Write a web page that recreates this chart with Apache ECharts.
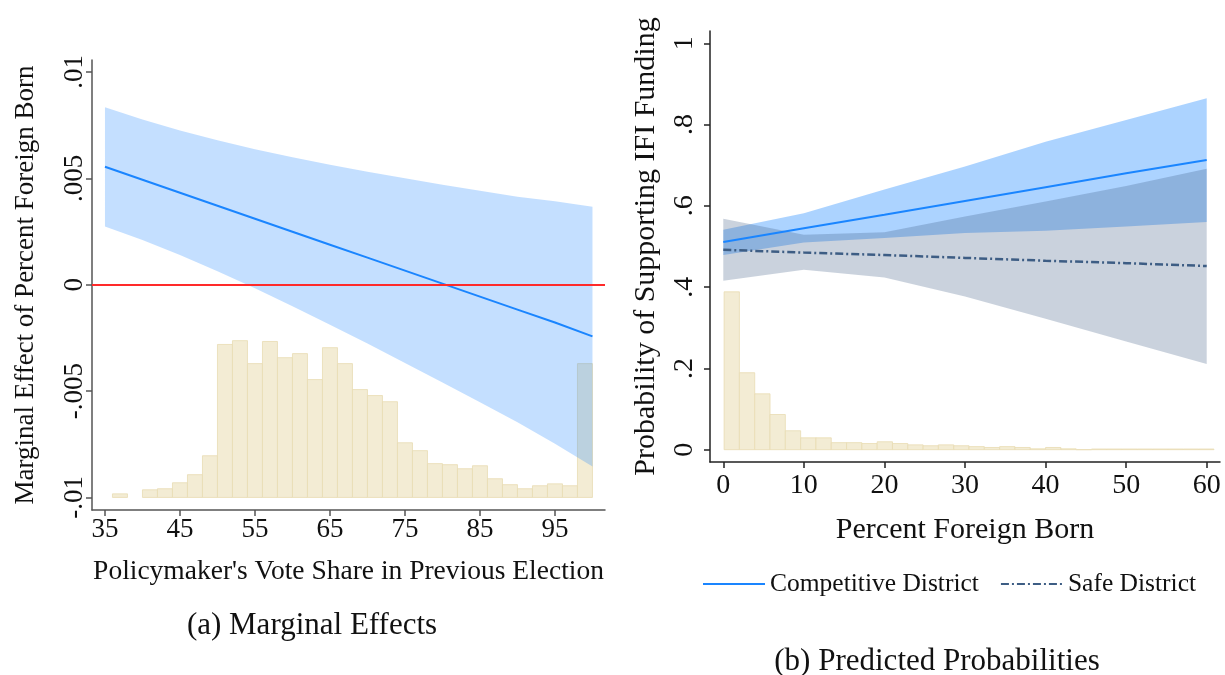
<!DOCTYPE html>
<html>
<head>
<meta charset="utf-8">
<title>Marginal effects and predicted probabilities</title>
<script src="https://cdn.jsdelivr.net/npm/echarts@6/dist/echarts.min.js"></script>
<style>
  html, body { margin: 0; padding: 0; background: #fff; }
  #chart { width: 1225px; height: 675px; }
</style>
</head>
<body>
<div id="chart"></div>
<script>
// (a) marginal effect of percent foreign born, by vote share
var voteShare   = [35, 40, 45, 50, 55, 60, 65, 70, 75, 80, 85, 90, 95, 100];
var effect      = [0.00554, 0.00493, 0.00432, 0.00371, 0.00310, 0.00249, 0.00188, 0.00127, 0.00066, 0.00005, -0.00056, -0.00117, -0.00178, -0.00243];
var effectUpper = [0.00834, 0.00776, 0.00725, 0.00679, 0.00637, 0.00599, 0.00564, 0.00531, 0.00500, 0.00470, 0.00441, 0.00413, 0.00392, 0.00366];
var effectLower = [0.00274, 0.00210, 0.00139, 0.00063, -0.00017, -0.00101, -0.00188, -0.00277, -0.00368, -0.00460, -0.00553, -0.00647, -0.00748, -0.00855];
var voteTicks   = [35, 45, 55, 65, 75, 85, 95];
var effectTicks = [-0.01, -0.005, 0, 0.005, 0.01];

// histogram of vote share (percent of districts, 2-point bins)
var voteBinWidth = 2;
var voteBinStart = [36, 40, 42, 44, 46, 48, 50, 52, 54, 56, 58, 60, 62, 64, 66, 68, 70, 72, 74, 76, 78, 80, 82, 84, 86, 88, 90, 92, 94, 96, 98];
var voteBinPct   = [0.17, 0.36, 0.41, 0.69, 1.07, 1.96, 7.19, 7.37, 6.29, 7.33, 6.57, 6.76, 5.54, 7.04, 6.29, 5.07, 4.79, 4.50, 2.57, 2.20, 1.59, 1.54, 1.35, 1.49, 0.88, 0.60, 0.41, 0.55, 0.64, 0.55, 6.29];

// (b) predicted probability of supporting IFI funding
var foreignBorn = [0, 10, 20, 30, 40, 50, 60];
var compProb    = [0.511, 0.545, 0.578, 0.612, 0.646, 0.680, 0.713];
var compUpper   = [0.541, 0.582, 0.640, 0.697, 0.758, 0.811, 0.865];
var compLower   = [0.479, 0.510, 0.521, 0.533, 0.539, 0.549, 0.560];
var safeProb    = [0.492, 0.485, 0.479, 0.472, 0.465, 0.459, 0.452];
var safeUpper   = [0.568, 0.529, 0.535, 0.574, 0.611, 0.649, 0.691];
var safeLower   = [0.416, 0.443, 0.424, 0.377, 0.322, 0.266, 0.211];
var foreignTicks = [0, 10, 20, 30, 40, 50, 60];
var probTicks    = [0, 0.2, 0.4, 0.6, 0.8, 1];

// histogram of percent foreign born (percent of districts)
var foreignBinWidth = 1.9;
var foreignBinFirst = 0.1;
var foreignBinPct = [35.9, 17.5, 12.7, 8.0, 4.3, 2.7, 2.7, 1.6, 1.6, 1.4, 1.8, 1.4, 1.1, 0.9, 1.1, 0.9, 0.7, 0.5, 0.7, 0.5, 0.2, 0.5, 0.2, 0, 0.15, 0.15, 0.15, 0.15, 0.15, 0.15, 0.15, 0.15];

var serif = "'Liberation Serif', 'Times New Roman', serif";
var ink = '#111';

// stata style labels: .005, -.01, 0
function stataNum(v) {
  if (v === 0) return '0';
  var s = String(Math.abs(+v.toFixed(6))).replace(/^0\./, '.');
  return (v < 0 ? '-' : '') + s;
}

function zip2(xs, ys) {
  return xs.map(function (x, i) { return [x, ys[i]]; });
}

function histRender(params, api) {
  var x0 = api.value(0), x1 = api.value(1), h = api.value(2);
  var top = api.coord([x0, h]);
  var bot = api.coord([x1, 0]);
  return {
    type: 'rect',
    shape: { x: top[0], y: top[1], width: bot[0] - top[0], height: bot[1] - top[1] },
    style: { fill: '#f3ecd4', stroke: '#e8dcb2', lineWidth: 0.8 }
  };
}

function bandRender(xs, lo, hi, fill) {
  return function (params, api) {
    if (params.dataIndex !== 0) return null;
    var pts = [];
    for (var i = 0; i < xs.length; i++) pts.push(api.coord([xs[i], hi[i]]));
    for (var j = xs.length - 1; j >= 0; j--) pts.push(api.coord([xs[j], lo[j]]));
    return { type: 'polygon', shape: { points: pts }, style: { fill: fill } };
  };
}

function bandData(xs, lo, hi) {
  return xs.map(function (x, i) { return [x, lo[i], hi[i]]; });
}

var voteHist = voteBinStart.map(function (s, i) { return [s, s + voteBinWidth, voteBinPct[i]]; });
var foreignHist = foreignBinPct.map(function (p, i) {
  var s = foreignBinFirst + i * foreignBinWidth;
  return [s, s + foreignBinWidth, p];
});

function axisBase(color, size) {
  return {
    axisLine: { show: true, onZero: false, lineStyle: { color: color, width: 1.5 } },
    axisTick: { show: true, length: 6, lineStyle: { color: color, width: 1.5 } },
    splitLine: { show: false },
    axisLabel: { fontSize: size, fontFamily: serif, color: ink },
    nameTextStyle: { fontSize: size, fontFamily: serif, color: ink }
  };
}

function merge(a, b) {
  var out = {};
  [a, b].forEach(function (o) {
    for (var k in o) {
      if (o[k] && typeof o[k] === 'object' && !Array.isArray(o[k]) && out[k] && typeof out[k] === 'object') {
        out[k] = merge(out[k], o[k]);
      } else {
        out[k] = o[k];
      }
    }
  });
  return out;
}

var chart = echarts.init(document.getElementById('chart'), null, { renderer: 'canvas' });

var option = {
  animation: false,
  backgroundColor: '#fff',
  grid: [
    { left: 92, right: 620, top: 60, bottom: 165 },
    { left: 710, right: 5, top: 31, bottom: 213 }
  ],
  xAxis: [
    merge(axisBase('#555', 27), {
      gridIndex: 0, type: 'value', min: 33.27, max: 101.67,
      axisTick: { customValues: voteTicks },
      axisLabel: { customValues: voteTicks, margin: 6 },
      name: "Policymaker's Vote Share in Previous Election",
      nameLocation: 'middle', nameGap: 48,
      nameTextStyle: { fontSize: 27.5 }
    }),
    merge(axisBase('#222', 28), {
      gridIndex: 1, type: 'value', min: -1.65, max: 61.65,
      axisTick: { customValues: foreignTicks },
      axisLabel: { customValues: foreignTicks, margin: 10 },
      name: 'Percent Foreign Born',
      nameLocation: 'middle', nameGap: 53,
      nameTextStyle: { fontSize: 30 }
    })
  ],
  yAxis: [
    merge(axisBase('#555', 27), {
      gridIndex: 0, type: 'value', min: -0.01059, max: 0.01056,
      axisTick: { customValues: effectTicks },
      axisLabel: { customValues: effectTicks, rotate: 90, margin: 4, formatter: stataNum },
      name: 'Marginal Effect of Percent Foreign Born',
      nameLocation: 'middle', nameGap: 53
    }),
    { gridIndex: 0, type: 'value', min: -0.59, max: 20.56, show: false },
    merge(axisBase('#222', 28), {
      gridIndex: 1, type: 'value', min: -0.0302, max: 1.0302,
      axisTick: { customValues: probTicks },
      axisLabel: { customValues: probTicks, rotate: 90, margin: 11, formatter: stataNum },
      name: 'Probability of Supporting IFI Funding',
      nameLocation: 'middle', nameGap: 49,
      nameTextStyle: { fontSize: 30 }
    }),
    { gridIndex: 1, type: 'value', min: -2.8, max: 95.2, show: false }
  ],
  legend: {
    left: 697, top: 566,
    itemWidth: 62, itemHeight: 14, itemGap: 21,
    itemStyle: { opacity: 0 },
    textStyle: { fontSize: 25.5, fontFamily: serif, color: ink },
    data: ['Competitive District', 'Safe District']
  },
  graphic: [
    { type: 'text', x: 312, y: 626, style: { text: '(a) Marginal Effects', fontSize: 31, fontFamily: serif, fill: ink, align: 'center', verticalAlign: 'middle' } },
    { type: 'text', x: 937, y: 662, style: { text: '(b) Predicted Probabilities', fontSize: 31, fontFamily: serif, fill: ink, align: 'center', verticalAlign: 'middle' } }
  ],
  series: [
    // panel a
    {
      type: 'custom', name: 'vote hist', xAxisIndex: 0, yAxisIndex: 1,
      renderItem: histRender, data: voteHist, encode: { x: [0, 1], y: 2 }, z: 1, silent: true
    },
    {
      type: 'custom', name: 'effect ci', xAxisIndex: 0, yAxisIndex: 0,
      renderItem: bandRender(voteShare, effectLower, effectUpper, 'rgba(26,133,255,0.26)'),
      data: bandData(voteShare, effectLower, effectUpper), encode: { x: 0, y: [1, 2] }, z: 2, silent: true
    },
    {
      type: 'line', name: 'effect', xAxisIndex: 0, yAxisIndex: 0,
      data: zip2(voteShare, effect), symbol: 'none', z: 4,
      lineStyle: { color: '#1a85ff', width: 2 },
      markLine: {
        silent: true, symbol: 'none', label: { show: false },
        lineStyle: { color: '#ff2a2a', width: 2, type: 'solid' },
        data: [{ yAxis: 0 }]
      }
    },
    // panel b
    {
      type: 'custom', name: 'foreign hist', xAxisIndex: 1, yAxisIndex: 3,
      renderItem: histRender, data: foreignHist, encode: { x: [0, 1], y: 2 }, z: 1, silent: true
    },
    {
      type: 'custom', name: 'comp ci', xAxisIndex: 1, yAxisIndex: 2,
      renderItem: bandRender(foreignBorn, compLower, compUpper, 'rgba(26,133,255,0.36)'),
      data: bandData(foreignBorn, compLower, compUpper), encode: { x: 0, y: [1, 2] }, z: 2, silent: true
    },
    {
      type: 'custom', name: 'safe ci', xAxisIndex: 1, yAxisIndex: 2,
      renderItem: bandRender(foreignBorn, safeLower, safeUpper, 'rgba(58,90,128,0.27)'),
      data: bandData(foreignBorn, safeLower, safeUpper), encode: { x: 0, y: [1, 2] }, z: 3, silent: true
    },
    {
      type: 'line', name: 'Competitive District', xAxisIndex: 1, yAxisIndex: 2,
      data: zip2(foreignBorn, compProb), symbol: 'none', z: 4,
      itemStyle: { color: '#1a85ff' },
      lineStyle: { color: '#1a85ff', width: 2 }
    },
    {
      type: 'line', name: 'Safe District', xAxisIndex: 1, yAxisIndex: 2,
      data: zip2(foreignBorn, safeProb), symbol: 'none', z: 4,
      itemStyle: { color: '#3d5d84' },
      lineStyle: { color: '#3d5d84', width: 2.5, type: [8, 3, 2, 3] }
    }
  ]
};

chart.setOption(option);
</script>
</body>
</html>
